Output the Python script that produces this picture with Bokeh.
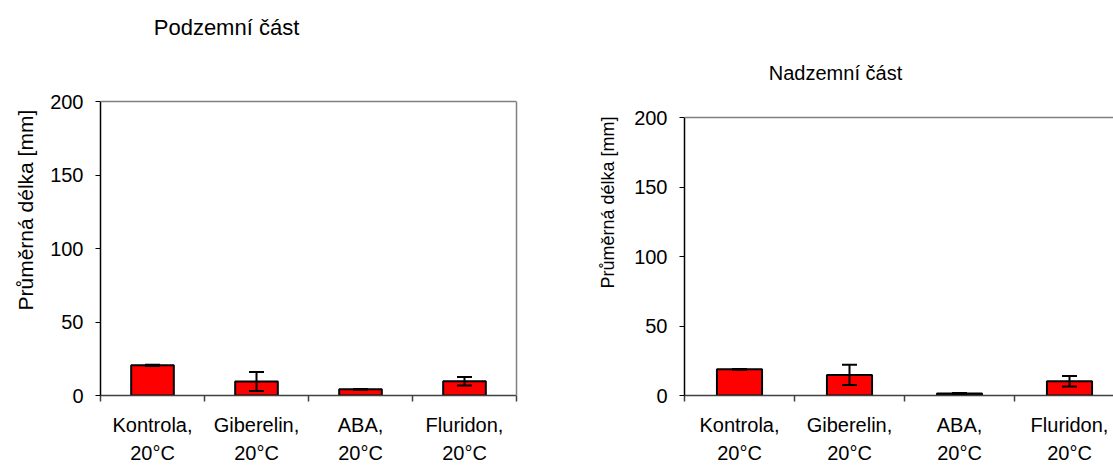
import math
from bokeh.plotting import figure
from bokeh.models import (ColumnDataSource, Range1d, LinearAxis, FixedTicker, Whisker, TeeHead,
                          Label, Span, Title)
from bokeh.layouts import row
from bokeh.embed import file_html
from bokeh.resources import INLINE

# ---- data ----
categories = ["Kontrola,", "Giberelin,", "ABA,", "Fluridon,"]
temps = ["20°C", "20°C", "20°C", "20°C"]
pod_values = [20.5, 9.5, 4.2, 9.7]
pod_errors = [0.4, 6.5, 0.3, 2.9]
nad_values = [18.8, 14.8, 1.5, 10.3]
nad_errors = [0.3, 7.3, 0.3, 3.8]
y_ticks = [0, 50, 100, 150, 200]
y_max = 200
titles = ["Podzemní část", "Nadzemní část"]
y_label = "Průměrná délka [mm]"

FONT = "Liberation Sans"
FRAME_TOP = 15      # frame reaches high so that the title can sit inside it
FRAME_BOTTOM = 395


def make_chart(values, errors, title, width, bl, br, axis_top_px, x_end,
               title_xy, title_size, lab_off, lab_stand, lab_size, right_border):
    pos = [i + 0.5 for i in range(len(categories))]
    bounds = list(range(len(categories) + 1))
    y_end = y_max * (FRAME_BOTTOM - FRAME_TOP) / (FRAME_BOTTOM - axis_top_px)
    p = figure(width=width, height=466, x_range=Range1d(0, x_end), y_range=Range1d(0, y_end),
               output_backend="svg", toolbar_location=None, title=None,
               x_axis_location=None, y_axis_location=None,
               min_border_left=bl, min_border_right=br, min_border_top=FRAME_TOP,
               min_border_bottom=466 - FRAME_BOTTOM)
    p.grid.visible = False
    p.background_fill_color = "white"
    p.border_fill_color = "white"
    p.outline_line_color = None
    p.add_layout(Span(location=y_max, dimension="width", line_color="#808080", line_width=1.5))

    src = ColumnDataSource(dict(x=pos, top=values,
                                upper=[v + e for v, e in zip(values, errors)],
                                lower=[v - e for v, e in zip(values, errors)]))
    p.vbar(x="x", top="top", bottom=0, width=0.41, source=src,
           fill_color="#FF0000", line_color="black", line_width=2)
    w = Whisker(base="x", upper="upper", lower="lower", source=src,
                line_color="black", line_width=2, level="overlay",
                upper_head=TeeHead(size=15, line_color="black", line_width=2),
                lower_head=TeeHead(size=15, line_color="black", line_width=2))
    p.add_layout(w)

    # y axis (line only over 0..200)
    yax = LinearAxis(ticker=FixedTicker(ticks=y_ticks), bounds=(0, y_max))
    yax.axis_line_color = "black"
    yax.axis_line_width = 1.5
    yax.major_tick_line_color = "black"
    yax.major_tick_out = 5
    yax.major_tick_in = 0
    yax.minor_tick_line_color = None
    yax.major_label_text_font = FONT
    yax.major_label_text_font_size = "20px"
    yax.major_label_text_color = "black"
    yax.major_label_standoff = 12
    p.add_layout(yax, "left")

    ylab = Title(text=y_label, align="left", offset=lab_off, standoff=lab_stand,
                 text_font=FONT, text_font_size=lab_size, text_font_style="normal",
                 text_color="black")
    p.add_layout(ylab, "left")

    if right_border:
        rax = LinearAxis(ticker=FixedTicker(ticks=[]), bounds=(0, y_max))
        rax.axis_line_color = "#808080"
        rax.axis_line_width = 1.5
        rax.major_tick_line_color = None
        rax.minor_tick_line_color = None
        p.add_layout(rax, "right")

    # x axis: first label line at category centres, ticks at category boundaries
    ax1 = LinearAxis(ticker=FixedTicker(ticks=pos, minor_ticks=bounds),
                     major_label_overrides={x: t for x, t in zip(pos, categories)})
    ax1.axis_line_color = "#404040"
    ax1.axis_line_width = 1.5
    ax1.major_tick_line_color = None
    ax1.major_tick_out = 6
    ax1.major_tick_in = 0
    ax1.minor_tick_line_color = "#404040"
    ax1.minor_tick_line_width = 1.5
    ax1.minor_tick_out = 6
    ax1.minor_tick_in = 0
    ax1.major_label_text_font = FONT
    ax1.major_label_text_font_size = "20px"
    ax1.major_label_text_color = "black"
    ax1.major_label_standoff = 12
    p.add_layout(ax1, "below")

    ax2 = LinearAxis(ticker=FixedTicker(ticks=pos),
                     major_label_overrides={x: t for x, t in zip(pos, temps)})
    ax2.axis_line_color = None
    ax2.major_tick_line_color = None
    ax2.major_tick_out = 0
    ax2.major_tick_in = 0
    ax2.minor_tick_line_color = None
    ax2.major_label_text_font = FONT
    ax2.major_label_text_font_size = "20px"
    ax2.major_label_text_color = "black"
    ax2.major_label_standoff = 3
    p.add_layout(ax2, "below")

    # chart title (pixels relative to the plot frame's bottom-left corner)
    p.add_layout(Label(x=title_xy[0], y=title_xy[1], x_units="screen", y_units="screen",
                       text=title, text_font=FONT, text_font_size=title_size,
                       text_color="black", text_align="center", text_baseline="middle"))
    return p


left_w = 560
p1 = make_chart(pod_values, pod_errors, titles[0], left_w, 100, 44, 101, 4,
                (126, 368), "22px", 85, 22, "21px", True)
right_w = 1113 - left_w
p2 = make_chart(nad_values, nad_errors, titles[1], right_w, 684 - left_w, 0, 117, 3.9,
                (151, 323), "20px", 107, 28, "18px", False)

layout = row(p1, p2)
open("out.html", "w").write(file_html(layout, INLINE))
